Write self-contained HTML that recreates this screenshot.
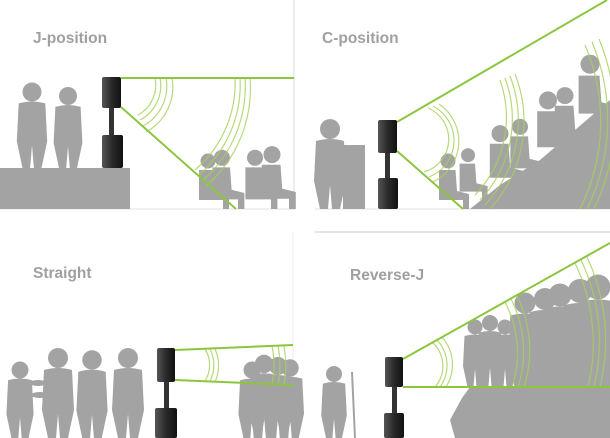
<!DOCTYPE html>
<html><head><style>
html,body{margin:0;padding:0;background:#fff;}
svg{display:block;}
text{font-family:"Liberation Sans",sans-serif;font-weight:bold;fill:#a0a0a0;font-size:15.5px;}
</style></head><body>
<svg width="610" height="438" viewBox="0 0 610 438" xmlns="http://www.w3.org/2000/svg">
<defs>
<linearGradient id="spk" x1="0" x2="1"><stop offset="0" stop-color="#555"/><stop offset=".5" stop-color="#2a2a2a"/><stop offset="1" stop-color="#111"/></linearGradient>
<g id="person"><circle cx="0" cy="-40" r="5"/><path d="M-7,-34 Q0,-36 7,-34 L8,-14 L5,0 L1,0 L0,-12 L-1,0 L-5,0 L-8,-14 Z"/></g>
<g id="seat"><circle cx="0" cy="-32" r="5"/><path d="M-6,-26 L5,-26 L6,-12 L14,-10 L14,0 L10,0 L10,-6 L-6,-6 Z"/></g>
</defs>
<rect width="610" height="438" fill="#fff"/>
<line x1="294" y1="0" x2="294" y2="210" stroke="#e6e6e6" stroke-width="1.5"/>
<line x1="293" y1="232" x2="293" y2="438" stroke="#f1e8e8" stroke-width="1"/>
<line x1="315" y1="232" x2="610" y2="232" stroke="#c8c8c8" stroke-width="1"/>
<line x1="0" y1="209" x2="294" y2="209" stroke="#e0e0e0"/>
<line x1="315" y1="209" x2="610" y2="209" stroke="#e0e0e0"/>

<text x="33" y="43">J-position</text>
<text x="322" y="43">C-position</text>
<text x="33" y="278">Straight</text>
<text x="350" y="280">Reverse-J</text>

<!-- J-position -->
<g fill="#a3a3a3">
<rect x="0" y="168" width="130" height="41"/>
<use href="#person" transform="translate(32,168) scale(1.9)"/>
<use href="#person" transform="translate(68,168) scale(1.8)"/>
<use href="#seat" transform="translate(208,209) scale(1.5)"/>
<use href="#seat" transform="translate(222,209) scale(1.6)"/>
<use href="#seat" transform="translate(255,209) scale(1.6)"/>
<use href="#seat" transform="translate(272,209) scale(1.7)"/>
</g>
<g fill="none" stroke="#a5d15a" stroke-width="1.2" opacity=".8">
<path d="M155,78 A34,34 0 0 1 138,115"/><path d="M160,78 A39,39 0 0 1 140,120"/><path d="M166,78 A45,45 0 0 1 143,126"/><path d="M172,78 A51,51 0 0 1 146,132"/>
<path d="M235,78 A114,114 0 0 1 195,170"/><path d="M240,78 A119,119 0 0 1 199,175"/><path d="M245,78 A124,124 0 0 1 203,180"/><path d="M250,78 A129,129 0 0 1 206,186"/>
</g>
<g stroke="#8cc63f" stroke-width="2" fill="none"><line x1="121" y1="78" x2="294" y2="78"/><line x1="121" y1="107" x2="236" y2="209"/></g>
<rect x="102" y="77" width="19" height="31" rx="2" fill="url(#spk)"/>
<rect x="109" y="108" width="5" height="27" fill="#333"/>
<rect x="102" y="135" width="21" height="33" rx="2" fill="url(#spk)"/>

<!-- C-position -->
<g fill="#a3a3a3">
<use href="#person" transform="translate(330,209) scale(2)"/>
<rect x="343" y="145" width="22" height="64"/>
<path d="M470,209 L500,185 L540,160 L575,130 L610,100 L610,209 Z"/>
<use href="#seat" transform="translate(448,209) scale(1.5)"/>
<use href="#seat" transform="translate(500,188) scale(1.7)"/>
<use href="#seat" transform="translate(548,158) scale(1.8)"/>
<use href="#seat" transform="translate(590,125) scale(1.9)"/>
<use href="#seat" transform="translate(468,200) scale(1.4)"/>
<use href="#seat" transform="translate(520,178) scale(1.6)"/>
<use href="#seat" transform="translate(565,150) scale(1.7)"/>
</g>
<g fill="none" stroke="#a5d15a" stroke-width="1.2" opacity=".8">
<path d="M428,108 A34,34 0 0 1 424,172"/><path d="M433,106 A39,39 0 0 1 429,177"/><path d="M439,104 A45,45 0 0 1 433,182"/>
<path d="M500,80 A112,112 0 0 1 475,195"/><path d="M505,78 A118,118 0 0 1 480,200"/><path d="M510,76 A124,124 0 0 1 485,205"/><path d="M515,74 A130,130 0 0 1 490,209"/>
<path d="M585,45 A195,195 0 0 1 580,209"/><path d="M592,42 A202,202 0 0 1 587,209"/><path d="M599,39 A209,209 0 0 1 594,209"/>
</g>
<g stroke="#8cc63f" stroke-width="2" fill="none"><line x1="397" y1="122" x2="607" y2="0"/><line x1="397" y1="151" x2="463" y2="209"/></g>
<rect x="378" y="120" width="19" height="33" rx="2" fill="url(#spk)"/>
<rect x="385" y="153" width="5" height="25" fill="#333"/>
<rect x="378" y="178" width="20" height="31" rx="2" fill="url(#spk)"/>

<!-- Straight -->
<g fill="#a3a3a3">
<use href="#person" transform="translate(20,438) scale(1.7)"/>
<use href="#person" transform="translate(58,438) scale(2)"/>
<use href="#person" transform="translate(92,438) scale(1.95)"/>
<use href="#person" transform="translate(128,438) scale(2)"/>
<ellipse cx="38" cy="383" rx="9" ry="3"/><ellipse cx="40" cy="395" rx="9" ry="3"/>
<use href="#person" transform="translate(252,438) scale(1.7)"/>
<use href="#person" transform="translate(264,438) scale(1.85)"/>
<use href="#person" transform="translate(278,438) scale(1.8)"/>
<use href="#person" transform="translate(290,438) scale(1.75)"/>
</g>
<g fill="none" stroke="#a5d15a" stroke-width="1.2" opacity=".8">
<path d="M205,349 A30,30 0 0 1 205,381"/><path d="M210,349 A35,35 0 0 1 210,381"/><path d="M215,349 A40,40 0 0 1 215,382"/>
<path d="M272,346 A95,95 0 0 1 272,384"/><path d="M278,346 A100,100 0 0 1 278,385"/><path d="M284,346 A105,105 0 0 1 284,385"/>
</g>
<g stroke="#8cc63f" stroke-width="2" fill="none"><line x1="175" y1="350" x2="293" y2="345"/><line x1="175" y1="380" x2="293" y2="385"/></g>
<rect x="157" y="348" width="18" height="34" rx="2" fill="url(#spk)"/>
<rect x="164" y="382" width="5" height="26" fill="#333"/>
<rect x="155" y="408" width="22" height="30" rx="2" fill="url(#spk)"/>

<!-- Reverse-J -->
<g fill="#a3a3a3">
<use href="#person" transform="translate(334,438) scale(1.6)"/>
<line x1="352" y1="372" x2="355" y2="438" stroke="#a3a3a3" stroke-width="2"/>
<path d="M455,438 L450,420 L462,398 L470,387 L610,387 L610,438 Z"/>
<use href="#person" transform="translate(475,387) scale(1.5)"/>
<use href="#person" transform="translate(490,387) scale(1.6)"/>
<use href="#person" transform="translate(505,387) scale(1.5)"/>
<use href="#person" transform="translate(525,387) scale(2.1)"/>
<use href="#person" transform="translate(545,387) scale(2.2)"/>
<use href="#person" transform="translate(560,387) scale(2.3)"/>
<use href="#person" transform="translate(580,387) scale(2.4)"/>
<use href="#person" transform="translate(598,387) scale(2.5)"/>
<rect x="520" y="330" width="90" height="57"/>
</g>
<g fill="none" stroke="#a5d15a" stroke-width="1.2" opacity=".8">
<path d="M432,342 A32,32 0 0 1 435,387"/><path d="M437,340 A37,37 0 0 1 440,387"/><path d="M442,337 A42,42 0 0 1 446,387"/>
<path d="M505,302 A110,110 0 0 1 512,387"/><path d="M511,299 A116,116 0 0 1 518,387"/><path d="M517,296 A122,122 0 0 1 524,387"/>
<path d="M575,263 A185,185 0 0 1 588,387"/><path d="M581,260 A191,191 0 0 1 594,387"/><path d="M587,257 A197,197 0 0 1 600,387"/>
</g>
<g stroke="#8cc63f" stroke-width="2" fill="none"><line x1="403" y1="359" x2="610" y2="243"/><line x1="403" y1="387" x2="610" y2="387"/></g>
<rect x="385" y="357" width="18" height="30" rx="2" fill="url(#spk)"/>
<rect x="392" y="387" width="5" height="26" fill="#333"/>
<rect x="384" y="413" width="20" height="25" rx="2" fill="url(#spk)"/>
</svg>
</body></html>
